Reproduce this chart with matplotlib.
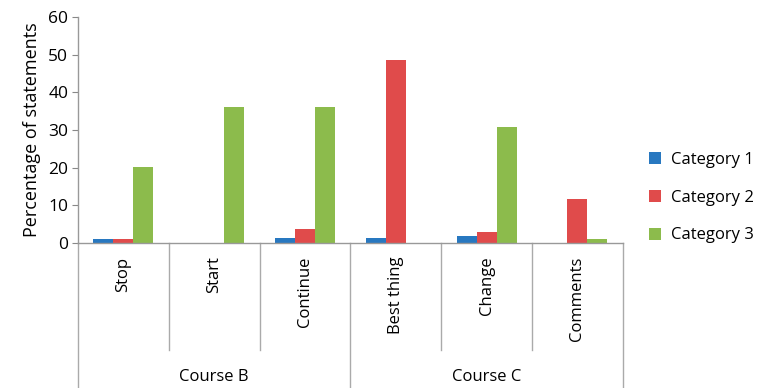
import numpy as np
import matplotlib
matplotlib.use("Agg")
import matplotlib.pyplot as plt

plt.rcParams['font.family'] = ['Open Sans', 'DejaVu Sans']

categories = ['Stop', 'Start', 'Continue', 'Best thing', 'Change', 'Comments']
courses = ['Course B', 'Course C']
series = ['Category 1', 'Category 2', 'Category 3']
cat1 = [1.0, 0.0, 1.3, 1.3, 1.8, 0.0]
cat2 = [1.0, 0.0, 3.8, 48.5, 3.0, 11.7]
cat3 = [20.3, 36.1, 36.1, 0.0, 30.7, 1.0]
colors = ['#2878c0', '#e04b4b', '#8cbb4c']

fig = plt.figure(figsize=(7.63, 3.88), dpi=100)
ax = fig.add_axes([0.1022, 0.3737, 0.714, 0.5823])

x = np.arange(len(categories))
w = 0.22
for i, (vals, name) in enumerate(zip([cat1, cat2, cat3], series)):
    ax.bar(x + (i - 1) * w, vals, w, color=colors[i], label=name, zorder=2)

ax.set_xlim(-0.5, len(categories) - 0.5)
ax.set_ylim(0, 60)
ax.set_yticks(range(0, 61, 10))
ax.set_xticks([])
ax.tick_params(axis='y', length=4, color='#888888', labelsize=12.5, pad=3)
for s in ['top', 'right']:
    ax.spines[s].set_visible(False)
for s in ['left', 'bottom']:
    ax.spines[s].set_color('#999999')
    ax.spines[s].set_linewidth(1.0)
ax.set_ylabel('Percentage of statements', fontsize=13, labelpad=5)

# two-level category axis drawn below the plot
tr = ax.get_xaxis_transform()
line_kw = dict(color='#aaaaaa', lw=1.0, clip_on=False, transform=tr)
for b in [0.5, 1.5, 3.5, 4.5]:
    ax.plot([b, b], [0, -0.473], **line_kw)
for b in [-0.5, 2.5, 5.5]:
    ax.plot([b, b], [0, -0.645], **line_kw)
for xi, lab in zip(x, categories):
    ax.text(xi, -0.06, lab, rotation=90, ha='center', va='top',
            fontsize=12, transform=tr)
for j, c in enumerate(courses):
    ax.text(1 + 3 * j, -0.595, c, ha='center', va='center',
            fontsize=12, transform=tr)

ax.legend(loc='center left', bbox_to_anchor=(1.02, 0.2), frameon=False,
          fontsize=12, handlelength=0.75, handleheight=0.75,
          labelspacing=1.3, handletextpad=0.6)

fig.savefig('out.png', dpi=100)
